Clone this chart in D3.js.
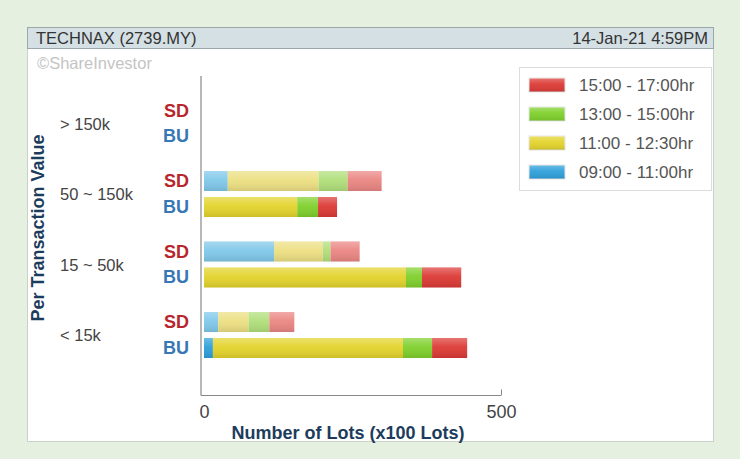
<!DOCTYPE html>
<html>
<head>
<meta charset="utf-8">
<script src="https://cdn.jsdelivr.net/npm/d3@7"></script>
<style>
  body { margin: 0; background: #e6f0e0; }
  svg { display: block; font-family: "Liberation Sans", Arial, sans-serif; }
</style>
</head>
<body>
<svg id="chart" width="740" height="459"></svg>
<script>
// data (units: x100 lots)
const categories = ["> 150k", "50 ~ 150k", "15 ~ 50k", "< 15k"];
const sides = ["SD", "BU"];
const periods = ["09:00 - 11:00hr", "11:00 - 12:30hr", "13:00 - 15:00hr", "15:00 - 17:00hr"];

const sd0900 = [0, 40, 118, 24];
const sd1100 = [0, 153, 82, 51];
const sd1300 = [0, 49, 13, 35];
const sd1500 = [0, 57, 49, 42];

const bu0900 = [0, 0, 0, 15];
const bu1100 = [0, 157, 340, 320];
const bu1300 = [0, 35, 27, 49];
const bu1500 = [0, 32, 66, 59];

const xTicks = [0, 500];

const fullColors  = ["#2ea0da", "#e3d32c", "#7fd02c", "#dc3a35"];
const fadedColors = ["#80c8ea", "#ecdf82", "#b0df7a", "#ea8682"];

// build one row per bar
let rows = [];
categories.forEach((c, i) => {
    rows.push({cat: c, side: "SD", v: [sd0900[i], sd1100[i], sd1300[i], sd1500[i]]});
    rows.push({cat: c, side: "BU", v: [bu0900[i], bu1100[i], bu1300[i], bu1500[i]]});
});

const svg = d3.select("#chart");

// gloss gradient laid over each bar
let defs = svg.append("defs");
let gloss = defs.append("linearGradient").attr("id", "gloss")
    .attr("x1", 0).attr("y1", 0).attr("x2", 0).attr("y2", 1);
gloss.append("stop").attr("offset", "0%").attr("stop-color", "#fff").attr("stop-opacity", 0.3);
gloss.append("stop").attr("offset", "45%").attr("stop-color", "#fff").attr("stop-opacity", 0.05);
gloss.append("stop").attr("offset", "100%").attr("stop-color", "#000").attr("stop-opacity", 0.1);

// panel + title bar
svg.append("rect").attr("x", 27.5).attr("y", 27.5).attr("width", 686).attr("height", 414)
    .attr("fill", "#fff").attr("stroke", "#c9d2c9");
svg.append("rect").attr("x", 27.5).attr("y", 27.5).attr("width", 686).attr("height", 21)
    .attr("fill", "#d4e0e4").attr("stroke", "#9aa8aa");
svg.append("text").attr("x", 36).attr("y", 44).attr("font-size", 16.5).attr("fill", "#333")
    .text("TECHNAX (2739.MY)");
svg.append("text").attr("x", 708).attr("y", 44).attr("font-size", 16.5).attr("fill", "#333")
    .attr("text-anchor", "end").text("14-Jan-21 4:59PM");
svg.append("text").attr("x", 37).attr("y", 69).attr("font-size", 16.5).attr("fill", "#c4c4c4")
    .text("\u00A9ShareInvestor");

// scales
let x = d3.scaleLinear().domain([0, 500]).range([204, 501]);
let y = d3.scaleBand().domain(categories).range([88.25, 370.25]);
let ySide = d3.scaleBand().domain(sides).range([12.25, 58.25]).paddingInner(0.23);

// axes lines
let axisLeftX = x(0) - 3;
svg.append("line").attr("x1", axisLeftX).attr("x2", axisLeftX).attr("y1", 76).attr("y2", 395.5)
    .attr("stroke", "#888").attr("stroke-width", 1.2);

let xAxis = svg.append("g").attr("transform", "translate(0,395.5)")
    .call(d3.axisBottom(x).tickValues(xTicks).tickSizeInner(-6).tickSizeOuter(0).tickPadding(10));
xAxis.select(".domain").remove();
xAxis.append("line").attr("x1", axisLeftX).attr("x2", x(500)).attr("stroke", "#888").attr("stroke-width", 1.2);
xAxis.selectAll(".tick line").attr("stroke", "#888");
xAxis.selectAll(".tick text").attr("font-size", 18).attr("fill", "#444")
    .attr("font-family", "Liberation Sans, Arial, sans-serif");
xAxis.selectAll(".tick").filter(d => d === 0).select("line").remove();

// stacked bars
let stack = d3.stack().keys(d3.range(periods.length)).value((d, k) => d.v[k]);
let series = stack(rows);

let barG = svg.append("g");
series.forEach((s, k) => {
    barG.selectAll(".seg" + k).data(s).enter().append("rect")
        .attr("x", d => x(d[0]))
        .attr("y", d => y(d.data.cat) + ySide(d.data.side))
        .attr("width", d => x(d[1]) - x(d[0]))
        .attr("height", ySide.bandwidth())
        .attr("fill", d => d.data.side === "SD" ? fadedColors[k] : fullColors[k]);
    barG.selectAll(".gl" + k).data(s.filter(d => d[1] > d[0])).enter().append("rect")
        .attr("x", d => x(d[0]))
        .attr("y", d => y(d.data.cat) + ySide(d.data.side))
        .attr("width", d => x(d[1]) - x(d[0]))
        .attr("height", ySide.bandwidth())
        .attr("fill", "url(#gloss)");
});

// category labels
svg.selectAll(".catLabel").data(categories).enter().append("text")
    .attr("x", 60)
    .attr("y", d => y(d) + y.bandwidth() / 2 + 6)
    .attr("font-size", 16.5).attr("fill", "#444")
    .text(d => d);

// SD / BU labels
rows.forEach(r => {
    svg.append("text")
        .attr("x", 189)
        .attr("y", y(r.cat) + ySide(r.side) + ySide.bandwidth() / 2 + 6)
        .attr("text-anchor", "end").attr("font-size", 18).attr("font-weight", "bold")
        .attr("fill", r.side === "SD" ? "#b8262b" : "#3877b5")
        .text(r.side);
});

// axis titles
svg.append("text").attr("x", 348).attr("y", 439).attr("text-anchor", "middle")
    .attr("font-size", 18).attr("font-weight", "bold").attr("fill", "#1d3c5c")
    .text("Number of Lots (x100 Lots)");
svg.append("text").attr("transform", "translate(44,228) rotate(-90)").attr("text-anchor", "middle")
    .attr("font-size", 18).attr("font-weight", "bold").attr("fill", "#1d3c5c")
    .text("Per Transaction Value");

// legend (latest period on top)
let legend = svg.append("g");
legend.append("rect").attr("x", 519.5).attr("y", 67.5).attr("width", 192).attr("height", 123)
    .attr("fill", "#fff").attr("stroke", "#dcdcdc");
let legendOrder = d3.range(periods.length).reverse();
let legY = d3.scalePoint().domain(legendOrder).range([85, 172]);
legendOrder.forEach(k => {
    legend.append("rect").attr("x", 529).attr("y", legY(k) - 7).attr("width", 36).attr("height", 14)
        .attr("fill", fullColors[k]).attr("stroke", "#e6e6e6");
    legend.append("rect").attr("x", 529).attr("y", legY(k) - 7).attr("width", 36).attr("height", 14)
        .attr("fill", "url(#gloss)");
    legend.append("text").attr("x", 579).attr("y", legY(k) + 6)
        .attr("font-size", 17).attr("fill", "#555").text(periods[k]);
});
</script>
</body>
</html>
